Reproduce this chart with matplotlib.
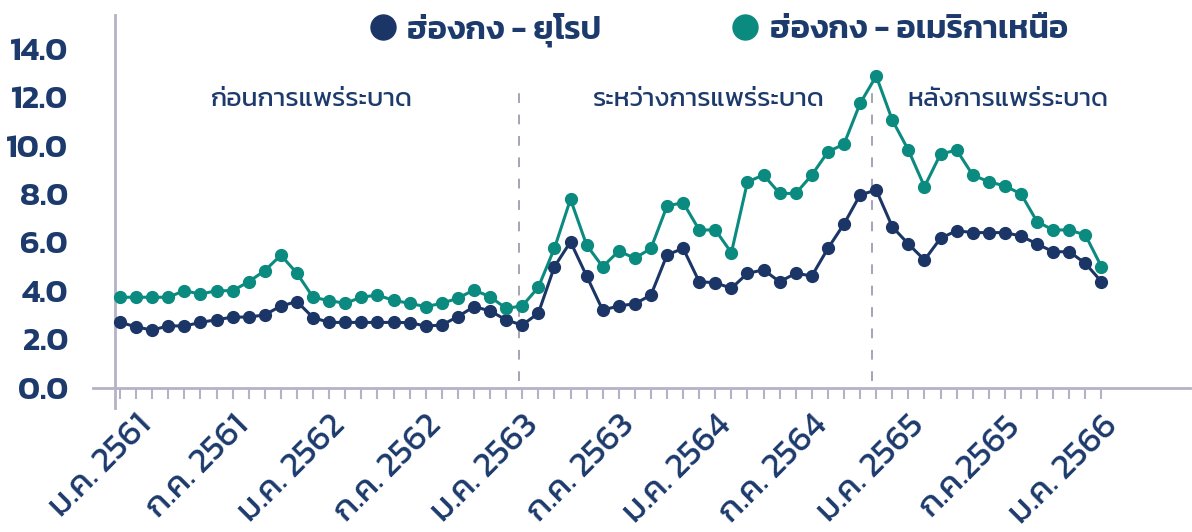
import matplotlib
matplotlib.use('Agg')
import matplotlib.pyplot as plt
from matplotlib.lines import Line2D
import matplotlib.transforms as mtransforms

plt.rcParams['font.family'] = ['Kanit', 'Prompt', 'Athiti', 'DejaVu Sans']

NAVY = '#1b3566'
TEAL = '#0b8a80'
TXT = '#1c3a6c'
GREY = '#b4b2c5'

# monthly, Dec 2560 .. Jan 2566 (62 months)
europe = [2.69, 2.51, 2.37, 2.55, 2.54, 2.69, 2.80, 2.91, 2.91, 3.00,
          3.37, 3.55, 2.89, 2.69, 2.69, 2.69, 2.69, 2.69, 2.68, 2.54,
          2.58, 2.93, 3.34, 3.17, 2.79, 2.58, 3.07, 4.99, 6.02, 4.61,
          3.20, 3.37, 3.46, 3.82, 5.48, 5.75, 4.37, 4.33, 4.10, 4.72,
          4.86, 4.37, 4.72, 4.61, 5.75, 6.76, 7.96, 8.16, 6.64, 5.93,
          5.27, 6.17, 6.48, 6.40, 6.40, 6.40, 6.26, 5.93, 5.61, 5.61,
          5.13, 4.37]
namerica = [3.73, 3.73, 3.73, 3.73, 4.00, 3.86, 4.00, 4.00, 4.37, 4.83,
            5.47, 4.72, 3.73, 3.59, 3.48, 3.73, 3.82, 3.60, 3.48, 3.34,
            3.48, 3.69, 4.03, 3.75, 3.27, 3.37, 4.14, 5.75, 7.78, 5.89,
            4.99, 5.64, 5.34, 5.75, 7.50, 7.64, 6.51, 6.51, 5.57, 8.50,
            8.78, 8.02, 8.02, 8.78, 9.74, 10.06, 11.74, 12.87, 11.05, 9.81,
            8.30, 9.65, 9.81, 8.78, 8.50, 8.33, 8.00, 6.85, 6.51, 6.51,
            6.30, 4.99]
tick_pos = [1, 7, 13, 19, 25, 31, 37, 43, 49, 55, 61]
tick_labels = ['ม.ค. 2561', 'ก.ค. 2561', 'ม.ค. 2562', 'ก.ค. 2562', 'ม.ค. 2563',
               'ก.ค. 2563', 'ม.ค. 2564', 'ก.ค. 2564', 'ม.ค. 2565', 'ก.ค.2565',
               'ม.ค. 2566']
series_names = ['ฮ่องกง - ยุโรป', 'ฮ่องกง - อเมริกาเหนือ']
periods = ['ก่อนการแพร่ระบาด', 'ระหว่างการแพร่ระบาด', 'หลังการแพร่ระบาด']
period_x = [11.9, 36.6, 55.2]
breaks = [24.8, 46.75]

x = list(range(len(europe)))

fig = plt.figure(figsize=(11.92, 5.32), dpi=100)
ax = fig.add_axes([0.078, 0.2716, 0.9203, 0.6596])

ax.plot(x, europe, color=NAVY, lw=2.2, marker='o', ms=8.5, zorder=3)
ax.plot(x, namerica, color=TEAL, lw=2.2, marker='o', ms=8.5, zorder=3)

for b in breaks:
    ax.vlines(b, 0.25, 12.5, colors='#a5a4b4', linestyles=(0, (5, 6)), lw=1.4)
for px, lab in zip(period_x, periods):
    ax.text(px, 11.88, lab, ha='center', va='center', fontsize=19,
            color=TXT, fontweight='normal')

ax.set_xlim(-1.678, 66.5)
ax.set_ylim(0, 14.5)
ax.set_yticks([0, 2, 4, 6, 8, 10, 12, 14])
ax.set_yticklabels(['%.1f' % v for v in [0, 2, 4, 6, 8, 10, 12, 14]])
ax.tick_params(axis='y', length=0, pad=18, labelsize=24, labelcolor=TXT)
for t in ax.get_yticklabels():
    t.set_fontweight('semibold')

ax.set_xticks(tick_pos)
ax.set_xticks(x, minor=True)
ax.set_xticklabels(tick_labels, rotation=45, ha='right', va='top',
                   rotation_mode='anchor', fontsize=25, color=TXT,
                   fontweight='normal')
offset = mtransforms.ScaledTranslation(12 / 100, 0, fig.dpi_scale_trans)
for t in ax.get_xticklabels():
    t.set_transform(t.get_transform() + offset)
ax.tick_params(axis='x', which='both', length=8, width=1.5, color=GREY, pad=8)

for s in ['top', 'right', 'left']:
    ax.spines[s].set_visible(False)
ax.spines['bottom'].set_color(GREY)
ax.spines['bottom'].set_linewidth(2)

trans = mtransforms.blended_transform_factory(ax.transData, ax.transAxes)
ax.add_line(Line2D([-0.31, -0.31], [-0.058, 1.061], transform=trans,
                   color=GREY, lw=2, clip_on=False))

handles = [Line2D([], [], color=NAVY, marker='o', ls='none', ms=18),
           Line2D([], [], color=TEAL, marker='o', ls='none', ms=18)]
fig.legend(handles, series_names, loc='center', bbox_to_anchor=(0.603, 0.945),
           ncol=2, frameon=False, handlelength=0.8, handletextpad=0.35,
           columnspacing=4.0, borderpad=0, borderaxespad=0,
           prop={'size': 23.5, 'weight': 'semibold'}, labelcolor=TXT)

fig.savefig('out.png', dpi=100)
